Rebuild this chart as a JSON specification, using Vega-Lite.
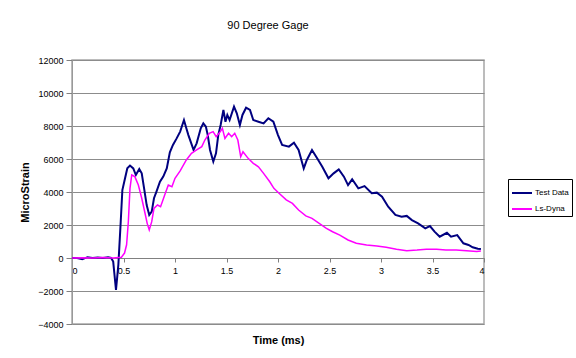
{
  "$schema": "https://vega.github.io/schema/vega-lite/v6.json",
  "width": 412,
  "height": 264,
  "autosize": {"type": "none"},
  "padding": {"left": 72, "top": 60, "right": 92, "bottom": 34},
  "background": "white",
  "title": {"text": "90 Degree Gage", "fontSize": 11, "fontWeight": "normal", "font": "Liberation Sans", "color": "#000000", "anchor": "middle", "frame": "group", "offset": 25, "dx": -10},
  "datasets": {
    "test": [
      {"t": 0, "v": 0}, {"t": 0.05, "v": 0}, {"t": 0.1, "v": -80}, {"t": 0.15, "v": 50}, {"t": 0.2, "v": 0}, {"t": 0.25, "v": 30}, {"t": 0.3, "v": 0}, {"t": 0.35, "v": 40}, {"t": 0.38, "v": 0},
      {"t": 0.40, "v": -220}, {"t": 0.427, "v": -1940}, {"t": 0.45, "v": -420}, {"t": 0.473, "v": 2200}, {"t": 0.489, "v": 4120}, {"t": 0.515, "v": 4830}, {"t": 0.537, "v": 5440}, {"t": 0.563, "v": 5600}, {"t": 0.595, "v": 5430}, {"t": 0.62, "v": 5030}, {"t": 0.653, "v": 5390}, {"t": 0.677, "v": 5130}, {"t": 0.70, "v": 4220}, {"t": 0.725, "v": 3210}, {"t": 0.75, "v": 2610}, {"t": 0.774, "v": 2810}, {"t": 0.796, "v": 3620}, {"t": 0.82, "v": 4020}, {"t": 0.854, "v": 4620}, {"t": 0.886, "v": 4930}, {"t": 0.92, "v": 5430}, {"t": 0.95, "v": 6400}, {"t": 0.98, "v": 6850}, {"t": 1.016, "v": 7250}, {"t": 1.05, "v": 7660}, {"t": 1.087, "v": 8360}, {"t": 1.11, "v": 7860}, {"t": 1.13, "v": 7450}, {"t": 1.152, "v": 7050}, {"t": 1.18, "v": 6550}, {"t": 1.21, "v": 6950}, {"t": 1.25, "v": 7860}, {"t": 1.275, "v": 8160}, {"t": 1.30, "v": 7960}, {"t": 1.318, "v": 7450}, {"t": 1.34, "v": 6550}, {"t": 1.372, "v": 5840}, {"t": 1.398, "v": 6340}, {"t": 1.42, "v": 7450}, {"t": 1.443, "v": 8060}, {"t": 1.47, "v": 8970}, {"t": 1.49, "v": 8260}, {"t": 1.508, "v": 8670}, {"t": 1.53, "v": 8360}, {"t": 1.573, "v": 9170}, {"t": 1.60, "v": 8770}, {"t": 1.63, "v": 8060}, {"t": 1.655, "v": 8670}, {"t": 1.69, "v": 9110}, {"t": 1.728, "v": 8970}, {"t": 1.76, "v": 8360}, {"t": 1.81, "v": 8260}, {"t": 1.86, "v": 8160}, {"t": 1.906, "v": 8470}, {"t": 1.955, "v": 8260}, {"t": 2.0, "v": 7450}, {"t": 2.04, "v": 6850}, {"t": 2.106, "v": 6750}, {"t": 2.155, "v": 6990}, {"t": 2.2, "v": 6550}, {"t": 2.25, "v": 5430}, {"t": 2.28, "v": 5940}, {"t": 2.33, "v": 6550}, {"t": 2.38, "v": 6040}, {"t": 2.43, "v": 5530}, {"t": 2.49, "v": 4830}, {"t": 2.54, "v": 5130}, {"t": 2.59, "v": 5370}, {"t": 2.64, "v": 4930}, {"t": 2.68, "v": 4420}, {"t": 2.72, "v": 4770}, {"t": 2.78, "v": 4220}, {"t": 2.84, "v": 4360}, {"t": 2.91, "v": 3920}, {"t": 2.96, "v": 3960}, {"t": 3.01, "v": 3720}, {"t": 3.07, "v": 3110}, {"t": 3.14, "v": 2610}, {"t": 3.2, "v": 2500}, {"t": 3.25, "v": 2550}, {"t": 3.3, "v": 2300}, {"t": 3.36, "v": 2100}, {"t": 3.43, "v": 1800}, {"t": 3.475, "v": 1940}, {"t": 3.52, "v": 1600}, {"t": 3.57, "v": 1290}, {"t": 3.64, "v": 1530}, {"t": 3.68, "v": 1290}, {"t": 3.74, "v": 1390}, {"t": 3.80, "v": 890}, {"t": 3.85, "v": 790}, {"t": 3.89, "v": 650}, {"t": 3.94, "v": 560}, {"t": 3.97, "v": 550}
    ],
    "dyna": [
      {"t": 0, "v": 0}, {"t": 0.1, "v": 20}, {"t": 0.2, "v": 0}, {"t": 0.3, "v": 30}, {"t": 0.4, "v": 0}, {"t": 0.48, "v": 50}, {"t": 0.51, "v": 300}, {"t": 0.53, "v": 800}, {"t": 0.547, "v": 2200}, {"t": 0.563, "v": 4220}, {"t": 0.58, "v": 5030}, {"t": 0.61, "v": 4930}, {"t": 0.644, "v": 4420}, {"t": 0.677, "v": 3620}, {"t": 0.709, "v": 2710}, {"t": 0.73, "v": 2100}, {"t": 0.75, "v": 1700}, {"t": 0.774, "v": 2200}, {"t": 0.796, "v": 3010}, {"t": 0.83, "v": 3210}, {"t": 0.86, "v": 3110}, {"t": 0.9, "v": 3820}, {"t": 0.935, "v": 4420}, {"t": 0.97, "v": 4320}, {"t": 1.0, "v": 4830}, {"t": 1.05, "v": 5280}, {"t": 1.11, "v": 5940}, {"t": 1.16, "v": 6340}, {"t": 1.21, "v": 6550}, {"t": 1.26, "v": 6750}, {"t": 1.29, "v": 7150}, {"t": 1.333, "v": 7560}, {"t": 1.37, "v": 7660}, {"t": 1.40, "v": 7350}, {"t": 1.44, "v": 7660}, {"t": 1.46, "v": 7860}, {"t": 1.485, "v": 7250}, {"t": 1.52, "v": 7560}, {"t": 1.55, "v": 7350}, {"t": 1.58, "v": 7560}, {"t": 1.61, "v": 7150}, {"t": 1.638, "v": 6140}, {"t": 1.66, "v": 6440}, {"t": 1.71, "v": 6040}, {"t": 1.76, "v": 5740}, {"t": 1.81, "v": 5530}, {"t": 1.86, "v": 5130}, {"t": 1.92, "v": 4620}, {"t": 1.96, "v": 4220}, {"t": 2.01, "v": 3920}, {"t": 2.08, "v": 3520}, {"t": 2.14, "v": 3310}, {"t": 2.2, "v": 2910}, {"t": 2.27, "v": 2550}, {"t": 2.33, "v": 2400}, {"t": 2.40, "v": 2100}, {"t": 2.47, "v": 1800}, {"t": 2.53, "v": 1590}, {"t": 2.6, "v": 1390}, {"t": 2.68, "v": 1090}, {"t": 2.76, "v": 890}, {"t": 2.86, "v": 790}, {"t": 2.96, "v": 730}, {"t": 3.05, "v": 650}, {"t": 3.15, "v": 530}, {"t": 3.25, "v": 440}, {"t": 3.35, "v": 480}, {"t": 3.44, "v": 530}, {"t": 3.54, "v": 530}, {"t": 3.63, "v": 480}, {"t": 3.73, "v": 480}, {"t": 3.83, "v": 440}, {"t": 3.93, "v": 400}, {"t": 3.97, "v": 420}
    ]
  },
  "layer": [
    {
      "data": {"name": "test"},
      "transform": [{"calculate": "'Test Data'", "as": "s"}],
      "mark": {"type": "line", "strokeWidth": 2, "clip": true}
    },
    {
      "data": {"name": "dyna"},
      "transform": [{"calculate": "'Ls-Dyna'", "as": "s"}],
      "mark": {"type": "line", "strokeWidth": 1.5, "clip": true}
    }
  ],
  "encoding": {
    "x": {
      "field": "t", "type": "quantitative",
      "scale": {"domain": [0, 4], "nice": false},
      "axis": {"title": "Time (ms)", "values": [0, 0.5, 1, 1.5, 2, 2.5, 3, 3.5, 4], "labelExpr": "datum.value", "offset": -66, "grid": false, "domainColor": "#808080", "tickColor": "#808080", "tickSize": 4, "labelFontSize": 9, "labelPadding": 4, "titleFontSize": 11, "titleFontWeight": "bold", "titleY": 76, "titleBaseline": "top"}
    },
    "y": {
      "field": "v", "type": "quantitative",
      "scale": {"domain": [-4000, 12000], "nice": false},
      "axis": {"title": "MicroStrain", "values": [-4000, -2000, 0, 2000, 4000, 6000, 8000, 10000, 12000], "format": "d", "grid": true, "gridColor": "#8c8c8c", "gridWidth": 1, "domainColor": "#999999", "tickColor": "#808080", "tickSize": 6, "labelFontSize": 9, "labelPadding": 3, "titleFontSize": 11, "titleFontWeight": "bold", "titlePadding": 7}
    },
    "color": {
      "field": "s", "type": "nominal",
      "scale": {"domain": ["Test Data", "Ls-Dyna"], "range": ["#000080", "#FF00FF"]},
      "legend": {"title": null, "orient": "none", "legendX": 436, "legendY": 119, "symbolType": "stroke", "symbolSize": 400, "symbolStrokeWidth": 2, "labelFontSize": 8, "padding": 3, "rowPadding": 1, "strokeColor": "#000000", "labelColor": "#000000", "labelOffset": 2, "symbolOffset": 0}
    }
  },
  "config": {
    "font": "Liberation Sans",
    "view": {"stroke": "#a6a6a6", "strokeWidth": 1.5},
    "axis": {"labelColor": "#000000", "titleColor": "#000000", "labelFont": "Liberation Sans", "titleFont": "Liberation Sans"},
    "legend": {"labelFont": "Liberation Sans"}
  }
}
